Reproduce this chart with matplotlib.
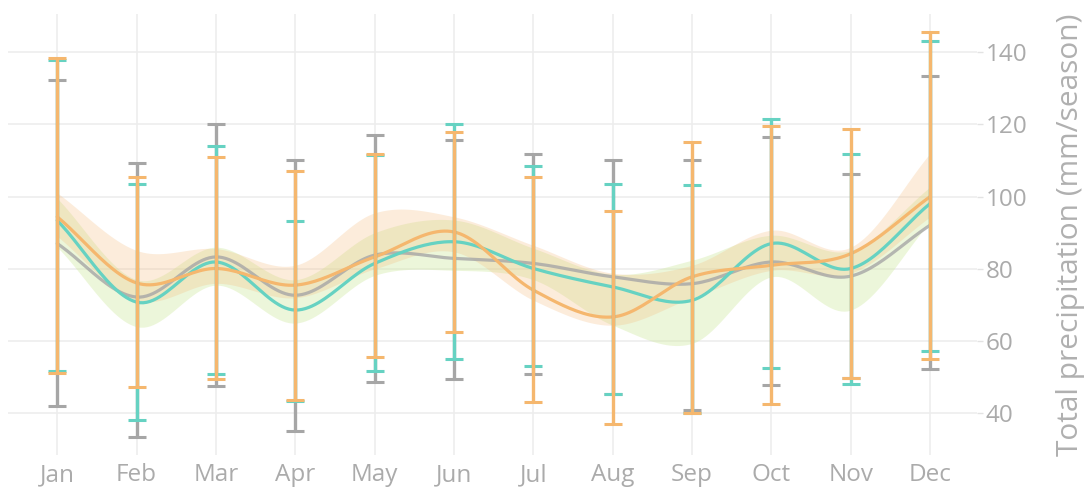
import numpy as np
import matplotlib
matplotlib.use("Agg")
import matplotlib.pyplot as plt

plt.rcParams['font.family'] = ['Open Sans', 'DejaVu Sans']

months = ['Jan', 'Feb', 'Mar', 'Apr', 'May', 'Jun', 'Jul', 'Aug', 'Sep', 'Oct', 'Nov', 'Dec']

grey_mean = [87.0, 72.2, 83.3, 72.7, 83.8, 82.9, 81.5, 77.8, 75.9, 81.9, 78.0, 92.1]
grey_hi = [132.2, 109.4, 120.2, 110.0, 117.0, 115.6, 111.7, 110.2, 110.2, 116.5, 106.2, 133.4]
grey_lo = [42.1, 33.5, 47.5, 35.1, 48.7, 49.5, 51.0, 45.5, 40.9, 47.8, 49.7, 52.2]

teal_mean = [93.4, 70.8, 81.9, 68.6, 81.5, 87.5, 80.1, 75.0, 71.3, 87.0, 80.1, 98.1]
teal_hi = [137.7, 103.6, 113.9, 93.2, 111.4, 120.2, 108.4, 103.4, 103.3, 121.4, 111.7, 143.0]
teal_lo = [51.8, 38.1, 50.8, 43.5, 51.7, 55.0, 53.1, 45.5, 40.0, 52.7, 48.1, 57.2]

orange_mean = [94.4, 76.1, 80.1, 75.5, 83.3, 90.2, 74.1, 66.7, 77.8, 81.0, 84.2, 100.0]
orange_hi = [138.2, 105.3, 111.0, 107.1, 111.7, 117.9, 105.3, 96.0, 115.1, 119.5, 118.8, 145.5]
orange_lo = [51.1, 47.2, 49.6, 43.8, 55.6, 62.4, 43.2, 37.0, 40.2, 42.5, 49.7, 55.2]

green_band_hi = [99.5, 77.0, 86.0, 77.0, 90.0, 93.5, 85.7, 78.5, 82.4, 89.3, 85.1, 102.7]
green_band_lo = [86.0, 64.0, 75.5, 65.0, 78.2, 79.6, 77.0, 64.4, 59.4, 77.8, 68.6, 93.0]
orange_band_hi = [101.0, 85.1, 85.6, 81.0, 95.5, 94.4, 86.5, 78.8, 81.0, 90.7, 86.0, 112.0]
orange_band_lo = [89.0, 71.3, 76.0, 72.0, 80.0, 84.7, 71.3, 64.4, 72.0, 79.6, 78.8, 94.4]

GREY = '#A6A6A6'
TEAL = '#66D2C2'
ORANGE = '#F5B76E'
TICK = '#ABABAB'


def smooth(x, y, n=24):
    P = np.column_stack([np.asarray(x, float), np.asarray(y, float)])
    P = np.vstack([P[0] - (P[1] - P[0]), P, P[-1] + (P[-1] - P[-2])])
    t = np.linspace(0, 1, n, endpoint=False)[:, None]
    out = []
    for i in range(1, len(P) - 2):
        p0, p1, p2, p3 = P[i - 1], P[i], P[i + 1], P[i + 2]
        seg = 0.5 * ((2 * p1) + (-p0 + p2) * t + (2 * p0 - 5 * p1 + 4 * p2 - p3) * t ** 2
                     + (-p0 + 3 * p1 - 3 * p2 + p3) * t ** 3)
        out.append(seg)
    out.append(P[-2][None, :])
    S = np.vstack(out)
    return S[:, 0], S[:, 1]


x = np.arange(len(months))

fig = plt.figure(figsize=(10.88, 4.9), dpi=100)
ax = fig.add_axes([0.0074, 0.0714, 0.8906, 0.9])

# bands
xs, gh = smooth(x, green_band_hi)
_, gl = smooth(x, green_band_lo)
ax.fill_between(xs, gl, gh, color=(0.80, 0.91, 0.60), alpha=0.36, lw=0, zorder=1)
_, oh = smooth(x, orange_band_hi)
_, ol = smooth(x, orange_band_lo)
ax.fill_between(xs, ol, oh, color=(0.96, 0.74, 0.50), alpha=0.28, lw=0, zorder=1.1)

series = [
    (grey_mean, grey_lo, grey_hi, GREY, 0.8),
    (teal_mean, teal_lo, teal_hi, TEAL, 1.0),
    (orange_mean, orange_lo, orange_hi, ORANGE, 1.0),
]
for k, (m, lo, hi, c, a) in enumerate(series):
    sx, sy = smooth(x, m)
    ax.plot(sx, sy, color=c, lw=2.3, alpha=a, zorder=2 + k * 0.1, solid_capstyle='round')
for k, (m, lo, hi, c, a) in enumerate(series):
    m = np.asarray(m); lo = np.asarray(lo); hi = np.asarray(hi)
    ax.errorbar(x, m, yerr=[m - lo, hi - m], fmt='none', ecolor=c, elinewidth=2.4,
                capsize=6.3, capthick=2.2, zorder=3 + k * 0.1)

ax.set_xlim(-0.62, 11.59)
ax.set_ylim(28.5, 150.5)
ax.set_xticks(x)
ax.set_xticklabels(months)
ax.set_yticks([40, 60, 80, 100, 120, 140])
ax.yaxis.tick_right()
ax.yaxis.set_label_position('right')
ax.set_ylabel('Total precipitation (mm/season)', color='#B0B0B0', fontsize=21.5, labelpad=21)

for s in ax.spines.values():
    s.set_visible(False)
ax.grid(True, color='#EDEDED', lw=1.2, zorder=0)
ax.set_axisbelow(True)
ax.tick_params(axis='x', length=0, pad=6, labelsize=17.5, labelcolor=TICK)
ax.tick_params(axis='y', length=4, width=1, color='#E3E3E3', pad=2, labelsize=17.5, labelcolor=TICK)

fig.savefig('out.png', dpi=100)
